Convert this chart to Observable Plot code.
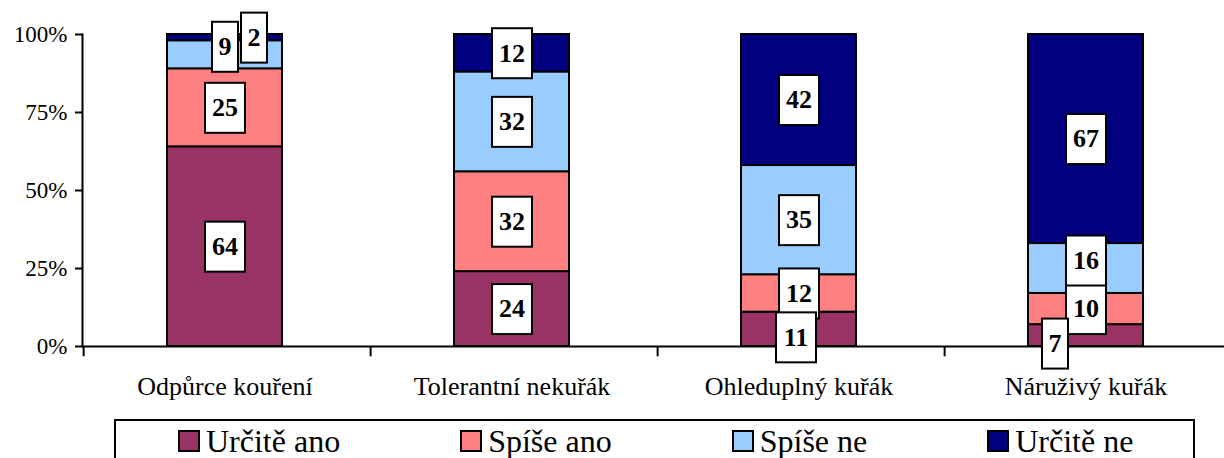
<!DOCTYPE html>
<html>
<head>
<meta charset="utf-8">
<script src="https://cdn.jsdelivr.net/npm/d3@7"></script>
<script src="https://cdn.jsdelivr.net/npm/@observablehq/plot@0.6"></script>
<style>
  html, body { margin: 0; padding: 0; overflow: hidden; background: #fff; }
  #wrap { position: relative; width: 1224px; height: 458px; }
  #legend {
    position: absolute; top: 419px; left: 114px; width: 1081px; height: 60px;
    box-sizing: border-box; border: 2px solid #000; background: #fff;
    display: flex; padding-left: 62px; gap: 120px; align-items: flex-start;
    font-family: "Liberation Serif", "DejaVu Serif", serif; font-size: 32px; color: #000;
  }
  .item { display: flex; align-items: center; height: 32px; line-height: 32px; margin-top: 4px; white-space: nowrap; }
  .item span.t { display: inline-block; height: 32px; line-height: 32px; }
  .sw { width: 18px; height: 18px; border: 2px solid #000; margin-right: 6px; flex: none; }
  svg text { font-family: "Liberation Serif", "DejaVu Serif", serif; }
</style>
</head>
<body>
<div id="wrap">
  <div id="chart"></div>
  <div id="legend"></div>
</div>
<script>
const categories = ["Odpůrce kouření", "Tolerantní nekuřák", "Ohleduplný kuřák", "Náruživý kuřák"];
const seriesNames = ["Určitě ano", "Spíše ano", "Spíše ne", "Určitě ne"];
const urciteAno = [64, 24, 11, 7];
const spiseAno = [25, 32, 12, 10];
const spiseNe = [9, 32, 35, 16];
const urciteNe = [2, 12, 42, 67];
const seriesColors = ["#993366", "#FF8080", "#99CCFF", "#000080"];
const yTicks = [0, 25, 50, 75, 100];

const seriesValues = [urciteAno, spiseAno, spiseNe, urciteNe];
const rows = [];
categories.forEach((cat, ci) => {
  let base = 0;
  seriesNames.forEach((s, si) => {
    const v = seriesValues[si][ci];
    rows.push({cat, series: s, value: v, si, mid: base + v / 2});
    base += v;
  });
});

// label placement groups (mimicking the original's collision avoidance)
function group(d) {
  if (d.value < 5) return "right";
  if (d.si === 0 && d.value < 8) return "downLeft";
  if (d.si === 0 && d.value < 12) return "down";
  if (d.si === 2 && d.value < 20) return "up";
  return "center";
}
const offsets = {
  center: [0, 0], right: [29, 0], downLeft: [-31, 8], down: [-3, 8], up: [0, -8]
};

const W = 1224, H = 410;
const left = 79.5, right = 1230.5;
const step = (right - left) / categories.length;

function boxed(index, scales, values, dims, ctx, next) {
  const g = next(index, scales, values, dims, ctx);
  const texts = Array.from(g.querySelectorAll("text"));
  texts.forEach((t, j) => {
    const i = index[j];
    const str = String(values.text ? values.text[i] : t.textContent);
    const w = str.length > 1 ? 40 : 26;
    const h = 50;
    const x = values.x[i], y = values.y[i];
    const r = document.createElementNS("http://www.w3.org/2000/svg", "rect");
    r.setAttribute("x", x - w / 2);
    r.setAttribute("y", y - h / 2);
    r.setAttribute("width", w);
    r.setAttribute("height", h);
    r.setAttribute("fill", "#fff");
    r.setAttribute("stroke", "#000");
    r.setAttribute("stroke-width", 2);
    t.parentNode.insertBefore(r, t);
  });
  return g;
}

const labelMarks = Object.keys(offsets).map(k =>
  Plot.text(rows.filter(d => group(d) === k), {
    x: "cat", y: "mid", text: d => String(d.value),
    dx: offsets[k][0], dy: offsets[k][1],
    fontSize: 26, fontWeight: "bold", fill: "#000",
    lineAnchor: "middle", textAnchor: "middle",
    render: boxed
  })
);

const chart = Plot.plot({
  width: W, height: H,
  marginLeft: 82, marginRight: 0, marginTop: 34, marginBottom: 64,
  style: {fontFamily: "'Liberation Serif', 'DejaVu Serif', serif", background: "#fff", color: "#000"},
  x: {domain: categories, range: [left, right], paddingInner: 0.6, paddingOuter: 0.3, label: null},
  y: {domain: [0, 100], label: null},
  color: {domain: seriesNames, range: seriesColors},
  marks: [
    Plot.barY(rows, Plot.stackY({x: "cat", y: "value", fill: "series", stroke: "#000", strokeWidth: 2})),
    Plot.ruleY([0], {stroke: "#000", strokeWidth: 2}),
    Plot.frame({anchor: "left", stroke: "#000", strokeWidth: 2}),
    Plot.ruleX(categories, {x: d => d, dx: -step / 2 + 2.5, y1: 0, y2: -3.3, stroke: "#000", strokeWidth: 2}),
    Plot.axisY({ticks: yTicks, tickFormat: d => d + "%", tickSize: 7, tickPadding: 8, fontSize: 23, strokeWidth: 2, label: null}),
    Plot.axisX({tickSize: 0, tickPadding: 30, fontSize: 26, label: null}),
    ...labelMarks
  ]
});
document.getElementById("chart").appendChild(chart);

const legend = document.getElementById("legend");
seriesNames.forEach((s, i) => {
  const item = document.createElement("div");
  item.className = "item";
  const sw = document.createElement("span");
  sw.className = "sw";
  sw.style.background = seriesColors[i];
  const tx = document.createElement("span");
  tx.className = "t";
  tx.textContent = s;
  item.appendChild(sw);
  item.appendChild(tx);
  legend.appendChild(item);
});
</script>
</body>
</html>
